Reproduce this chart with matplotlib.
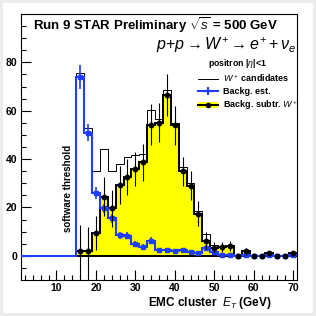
import matplotlib
matplotlib.use("Agg")
import matplotlib.pyplot as plt
from matplotlib.lines import Line2D
from matplotlib.patches import Patch, Rectangle
import numpy as np

plt.rcParams['font.family'] = ['Liberation Sans', 'DejaVu Sans']
plt.rcParams['mathtext.fontset'] = 'custom'
plt.rcParams['mathtext.rm'] = 'Liberation Sans'
plt.rcParams['mathtext.it'] = 'Liberation Sans:italic'
plt.rcParams['mathtext.bf'] = 'Liberation Sans:bold'

# bin centres (GeV), 2 GeV wide bins
et = np.arange(2, 71, 2)

# W+ candidates (thin black)
cand = [0, 0, 0, 0, 0, 0, 0,
        75.5, 53, 35, 44, 35, 38, 41, 41.5, 42, 60.2, 56.5, 68.6, 55, 36.6,
        30, 18.5, 9, 4.6, 4.1, 4.1, 0, 2, 0, 0, 1, 0, 0, 1]
# background estimate (blue)
bkg = [0, 0, 0, 0, 0, 0, 0,
       73.8, 50.9, 26, 19.6, 15.5, 8.5, 8.3, 5, 3.7, 6.2, 2.2, 2.5, 2, 2.5,
       1.5, 1.2, 3.4, 1.4, 0.4, 0.4, 0, 0.3, 0, 0, 0.2, 0, 0, 0.2]
bkg_err = [0, 0, 0, 0, 0, 0, 0,
           5, 3.5, 2.5, 2, 2, 1.5, 1.5, 1, 1, 1.5, 0.8, 0.8, 0.8, 0.8,
           0.7, 0.6, 1, 0.6, 0.3, 0.3, 0.2, 0.3, 0.2, 0.2, 0.3, 0.2, 0.2, 0.3]
# background subtracted W+ (yellow)
sig = [0, 0, 0, 0, 0, 0, 0,
       1.8, 1.8, 9.3, 24.5, 19.6, 29.3, 32.6, 36, 38.6, 54.2, 55, 66.5, 54, 35,
       29, 17.5, 6.2, 3.4, 3.7, 4.1, 0, 1.8, 0, 0, 1, 0, 0, 1]
sig_err = [0, 0, 0, 0, 0, 0, 0,
           11, 10, 7, 8, 7.5, 8, 7.5, 7, 7.5, 8.5, 8, 8.5, 8, 6,
           6, 5, 3.5, 2.2, 2, 2.2, 0.5, 1.5, 0.3, 0.3, 1, 0.3, 0.3, 1]

edges = np.append(et - 1, et[-1] + 1)
first = 7  # first filled bin (15-17 GeV)

blue = '#1f3cff'
yellow = '#ffff00'

fig = plt.figure(figsize=(3.16, 3.16), dpi=100)
fig.patch.set_facecolor('#ececec')
fig.patches.append(Rectangle((3 / 316, 3 / 316), 1 - 6 / 316, 1 - 6 / 316,
                             transform=fig.transFigure, facecolor='white',
                             edgecolor='none', zorder=-5))
ax = fig.add_axes([21 / 316, 36 / 316, 276 / 316, 266 / 316])
ax.set_facecolor('white')

ax.stairs(sig, edges, fill=True, color=yellow, zorder=1)
ax.axhline(0, color='black', lw=1.4, zorder=2)
ax.stairs(sig, edges, color='black', lw=1.4, zorder=2)
ax.stairs(cand, edges, color='black', lw=0.7, zorder=3)
ax.stairs(bkg, edges, color=blue, lw=1.5, zorder=4)
ax.errorbar(et[first:], bkg[first:], yerr=bkg_err[first:], xerr=0.6,
            fmt='s', ms=2.5, color=blue, ecolor=blue, elinewidth=1.2, zorder=5)
ax.errorbar(et[first:], sig[first:], yerr=sig_err[first:], fmt='o', ms=3.2,
            color='black', ecolor='black', elinewidth=0.8, zorder=6)

ax.set_xlim(1, 71)
ax.set_ylim(-10, 100)
ax.set_xticks([10, 20, 30, 40, 50, 60, 70])
ax.set_xticks(np.arange(2, 71, 2), minor=True)
ax.set_yticks([0, 20, 40, 60, 80])
ax.set_yticks(np.arange(-5, 100, 5), minor=True)
ax.tick_params(which='both', direction='in', top=False, right=False)
ax.tick_params(which='major', length=7, width=0.8, labelsize=7.5, pad=2.5)
ax.tick_params(which='minor', length=3.5, width=0.8)
for lab in ax.get_xticklabels() + ax.get_yticklabels():
    lab.set_fontweight('bold')
for s in ax.spines.values():
    s.set_linewidth(0.8)

ax.text(0.489, 0.96, r"Run 9 STAR Preliminary $\sqrt{s}$ = 500 GeV",
        transform=ax.transAxes, ha='center', va='center', fontsize=9.5,
        fontweight='bold')
ax.text(1.0, 0.882, r"$p{+}p \rightarrow W^{+} \rightarrow e^{+} + \nu_{e}$",
        transform=ax.transAxes, ha='right', va='center', fontsize=11.5)
ax.text(0.786, 0.814, r"positron |$\eta$|<1", transform=ax.transAxes,
        ha='center', va='center', fontsize=6.3, fontweight='bold')
ax.text(13, 28, "software threshold", rotation=90, ha='center', va='center',
        fontsize=7, fontweight='bold')
ax.text(0.685, -0.088, r"EMC cluster  $E_T$ (GeV)", transform=ax.transAxes,
        ha='center', va='center', fontsize=8.5, fontweight='bold')

handles = [Line2D([], [], color='black', lw=0.7),
           Line2D([], [], color=blue, lw=1.5, marker='+', ms=6, mew=1.5),
           (Patch(facecolor=yellow, edgecolor='none'),
            Line2D([], [], color='black', lw=1.4, marker='o', ms=3))]
labels = [r"$W^+$ candidates", "Backg. est.", r"Backg. subtr. $W^+$"]
ax.legend(handles, labels, loc='upper left', bbox_to_anchor=(0.62, 0.805),
          frameon=False, prop={'size': 6.5, 'weight': 'bold'},
          handlelength=2.2, handletextpad=0.5, labelspacing=0.32,
          borderpad=0.2)

fig.savefig("out.png", dpi=100)
